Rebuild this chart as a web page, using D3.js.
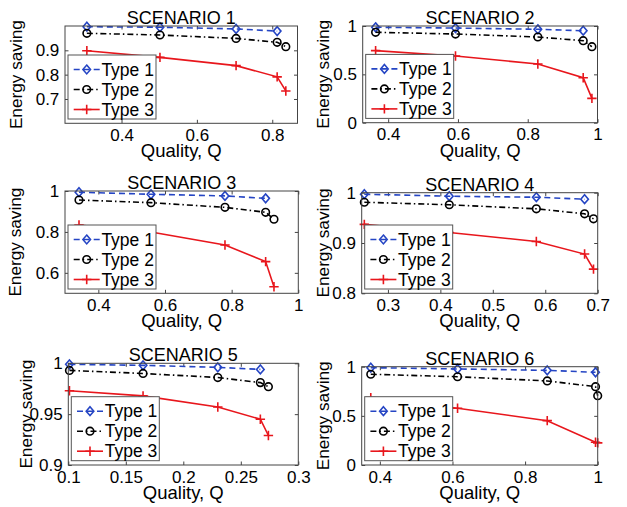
<!DOCTYPE html>
<html>
<head>
<meta charset="utf-8">
<script src="https://cdn.jsdelivr.net/npm/d3@7"></script>
<style>
  body { margin: 0; background: #fff; }
  svg text { font-family: "Liberation Sans", Arial, Helvetica, sans-serif; fill: #000; }
</style>
</head>
<body>
<svg id="fig" width="627" height="507"></svg>
<script>
// ---- Data: energy saving vs. quality for three types, six scenarios ----
const scenarioTitles = ["SCENARIO 1", "SCENARIO 2", "SCENARIO 3", "SCENARIO 4", "SCENARIO 5", "SCENARIO 6"];
const seriesNames = ["Type 1", "Type 2", "Type 3"];
const xLabel = "Quality, Q";
const yLabel = "Energy saving";

// Scenario 1
const quality1 = [0.308, 0.502, 0.704, 0.813, 0.836];
const s1Type1 = [0.997, 0.995, 0.988, 0.979];
const s1Type2 = [0.970, 0.963, 0.949, 0.933, 0.915];
const s1Type3 = [0.898, 0.871, 0.837, 0.791, 0.733];
// Scenario 2
const quality2 = [0.364, 0.593, 0.829, 0.959, 0.984];
const s2Type1 = [0.987, 0.979, 0.966, 0.951];
const s2Type2 = [0.935, 0.917, 0.886, 0.848, 0.786];
const s2Type3 = [0.745, 0.690, 0.607, 0.465, 0.252];
// Scenario 3
const quality3 = [0.342, 0.558, 0.780, 0.902, 0.927];
const s3Type1 = [0.994, 0.984, 0.976, 0.964];
const s3Type2 = [0.956, 0.943, 0.920, 0.896, 0.862];
const s3Type3 = [0.834, 0.800, 0.736, 0.655, 0.532];
// Scenario 4
const quality4 = [0.255, 0.417, 0.583, 0.675, 0.692];
const s4Type1 = [0.997, 0.993, 0.991, 0.987];
const s4Type2 = [0.981, 0.976, 0.968, 0.958, 0.948];
const s4Type3 = [0.937, 0.921, 0.903, 0.878, 0.848];
// Scenario 5
const quality5 = [0.101, 0.165, 0.230, 0.267, 0.274];
const s5Type1 = [0.999, 0.998, 0.996, 0.994];
const s5Type2 = [0.993, 0.990, 0.986, 0.981, 0.977];
const s5Type3 = [0.973, 0.968, 0.957, 0.945, 0.929];
// Scenario 6
const quality6 = [0.375, 0.614, 0.861, 0.994, 1.0];
const s6Type1 = [0.990, 0.977, 0.963, 0.943];
const s6Type2 = [0.923, 0.898, 0.855, 0.797, 0.705];
const s6Type3 = [0.685, 0.577, 0.451, 0.231, 0.225];

// Axis limits and ticks
const xDomains = [[0.25, 0.867], [0.327, 1], [0.3, 1], [0.25, 0.7], [0.1, 0.3], [0.35, 1]];
const yDomains = [[0.6, 1], [0, 1], [0.5, 1], [0.8, 1], [0.9, 1], [0, 1]];
const xTickValues = [
  [0.4, 0.6, 0.8],
  [0.4, 0.6, 0.8, 1],
  [0.4, 0.6, 0.8, 1],
  [0.3, 0.4, 0.5, 0.6, 0.7],
  [0.1, 0.15, 0.2, 0.25, 0.3],
  [0.4, 0.6, 0.8, 1]
];
const yTickValues = [
  [0.7, 0.8, 0.9],
  [0, 0.5, 1],
  [0.6, 0.8, 1],
  [0.8, 0.9, 1],
  [0.9, 0.95, 1],
  [0, 0.5, 1]
];

const qualities = [quality1, quality2, quality3, quality4, quality5, quality6];
const type1 = [s1Type1, s2Type1, s3Type1, s4Type1, s5Type1, s6Type1];
const type2 = [s1Type2, s2Type2, s3Type2, s4Type2, s5Type2, s6Type2];
const type3 = [s1Type3, s2Type3, s3Type3, s4Type3, s5Type3, s6Type3];

// ---- Layout (axes boxes in pixels) ----
const boxes = [
  { l: 65,    r: 297.5, t: 26,    b: 123.3, ylab: -43.5 },
  { l: 362.7, r: 597.5, t: 26,    b: 122.7, ylab: -33.7 },
  { l: 65,    r: 298.3, t: 191,   b: 293.3, ylab: -44.5 },
  { l: 361.7, r: 597.7, t: 192.7, b: 293.3, ylab: -32.7 },
  { l: 68.3,  r: 298.3, t: 363.3, b: 465,   ylab: -36 },
  { l: 361.7, r: 597.7, t: 366.7, b: 465,   ylab: -32.7 }
];

const TICK_FONT = 17;
const LEGEND_FONT = 17.5;
const TITLE_FONT = 18;
const XLABEL_FONT = 18.5;
const YLABEL_FONT = 17.2;

const styles = [
  { color: "#2545c4", dash: "6,4",       marker: "diamond" },
  { color: "#000000", dash: "6,3,1.5,3", marker: "circle" },
  { color: "#e8161c", dash: null,        marker: "plus" }
];

const svg = d3.select("#fig");
const fmt = d3.format("~g");

function drawMarker(g, kind, cx, cy, color) {
  if (kind === "diamond") {
    g.append("path")
      .attr("d", `M${cx},${cy - 4.4}L${cx + 3.8},${cy}L${cx},${cy + 4.4}L${cx - 3.8},${cy}Z`)
      .attr("fill", "none").attr("stroke", color).attr("stroke-width", 1.6);
  } else if (kind === "circle") {
    g.append("circle").attr("cx", cx).attr("cy", cy).attr("r", 3.8)
      .attr("fill", "none").attr("stroke", color).attr("stroke-width", 1.6);
  } else {
    g.append("path")
      .attr("d", `M${cx - 4.7},${cy}H${cx + 4.7}M${cx},${cy - 4.7}V${cy + 4.7}`)
      .attr("fill", "none").attr("stroke", color).attr("stroke-width", 1.6);
  }
}

boxes.forEach((bx, i) => {
  const x = d3.scaleLinear().domain(xDomains[i]).range([bx.l, bx.r]);
  const y = d3.scaleLinear().domain(yDomains[i]).range([bx.b, bx.t]);
  const g = svg.append("g");

  // axes background
  g.append("rect").attr("x", bx.l).attr("y", bx.t)
    .attr("width", bx.r - bx.l).attr("height", bx.b - bx.t)
    .attr("fill", "#fff");

  // ticks pointing inward on all four sides
  const axes = [
    { gen: d3.axisBottom(x).tickValues(xTickValues[i]).tickFormat(fmt), tr: `translate(0,${bx.b})` },
    { gen: d3.axisTop(x).tickValues(xTickValues[i]).tickFormat(""), tr: `translate(0,${bx.t})` },
    { gen: d3.axisLeft(y).tickValues(yTickValues[i]).tickFormat(fmt), tr: `translate(${bx.l},0)` },
    { gen: d3.axisRight(y).tickValues(yTickValues[i]).tickFormat(""), tr: `translate(${bx.r},0)` }
  ];
  axes.forEach((a, k) => {
    a.gen.tickSizeInner(-3.5).tickSizeOuter(0).tickPadding(k === 0 ? 5.5 : 5.7);
    const ag = g.append("g").attr("transform", a.tr).call(a.gen);
    ag.select(".domain").remove();
    ag.selectAll(".tick line").attr("stroke", "#444").attr("stroke-width", 1);
    ag.selectAll(".tick text").attr("font-size", TICK_FONT).attr("fill", "#000")
      .attr("font-family", "Liberation Sans, Arial, sans-serif");
  });

  // series
  const seriesData = [type1[i], type2[i], type3[i]];
  const q = qualities[i];
  seriesData.forEach((vals, s) => {
    const pts = vals.map((v, k) => [q[k], v]);
    const line = d3.line().x(d => x(d[0])).y(d => y(d[1]));
    g.append("path").attr("d", line(pts))
      .attr("fill", "none").attr("stroke", styles[s].color).attr("stroke-width", 1.6)
      .attr("stroke-dasharray", styles[s].dash);
    pts.forEach(d => drawMarker(g, styles[s].marker, x(d[0]), y(d[1]), styles[s].color));
  });

  // box outline
  g.append("rect").attr("x", bx.l).attr("y", bx.t)
    .attr("width", bx.r - bx.l).attr("height", bx.b - bx.t)
    .attr("fill", "none").attr("stroke", "#444").attr("stroke-width", 1);

  // legend (bottom-left corner)
  const lw = 88, lh = 64;
  const lx = bx.l + 3, ly = bx.b - 4.3 - lh;
  const lg = g.append("g");
  lg.append("rect").attr("x", lx).attr("y", ly).attr("width", lw).attr("height", lh)
    .attr("fill", "#fff").attr("stroke", "#555").attr("stroke-width", 1);
  seriesNames.forEach((name, s) => {
    const ry = ly + 14.5 + s * 20;
    lg.append("line").attr("x1", lx + 5.7).attr("x2", lx + 31.7).attr("y1", ry).attr("y2", ry)
      .attr("stroke", styles[s].color).attr("stroke-width", 1.6)
      .attr("stroke-dasharray", styles[s].dash);
    drawMarker(lg, styles[s].marker, lx + 18.7, ry, styles[s].color);
    lg.append("text").attr("x", lx + 33.4).attr("y", ry + 6)
      .attr("font-size", LEGEND_FONT).text(name);
  });

  // title
  g.append("text").attr("x", (bx.l + bx.r) / 2).attr("y", bx.t - 2.2)
    .attr("text-anchor", "middle").attr("font-size", TITLE_FONT).text(scenarioTitles[i]);

  // axis labels
  g.append("text").attr("x", (bx.l + bx.r) / 2).attr("y", bx.b + 34)
    .attr("text-anchor", "middle").attr("font-size", XLABEL_FONT).text(xLabel);
  g.append("text")
    .attr("transform", `translate(${bx.l + bx.ylab},${(bx.t + bx.b) / 2}) rotate(-90)`)
    .attr("text-anchor", "middle").attr("font-size", YLABEL_FONT).text(yLabel);
});
</script>
</body>
</html>
